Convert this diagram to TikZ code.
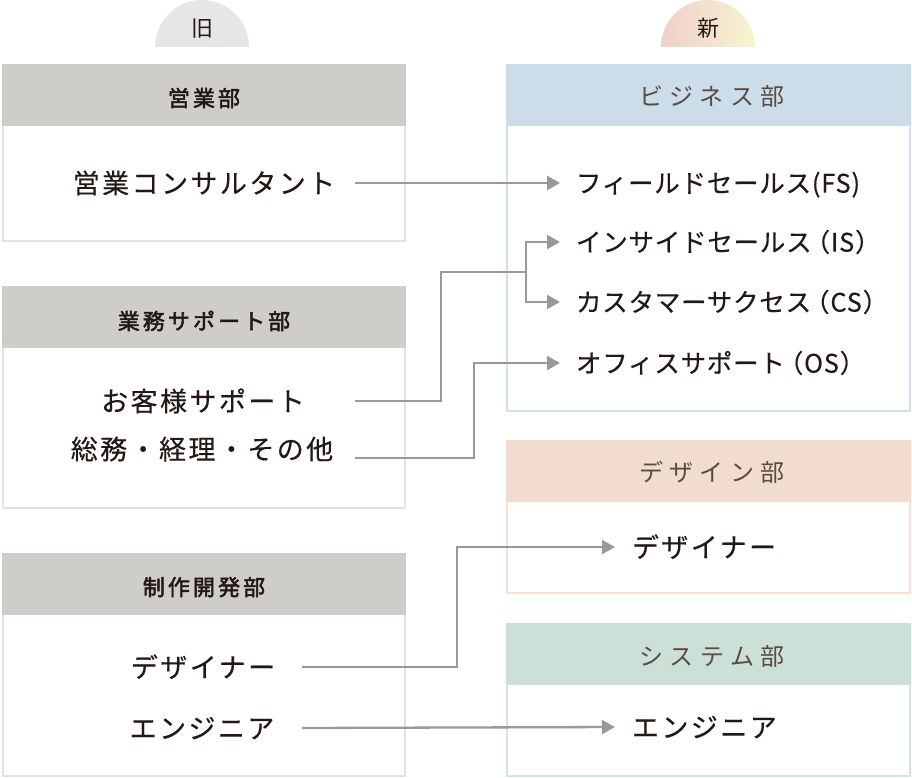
\documentclass[tikz,border=0pt]{standalone}
\usepackage{fontspec}
\usetikzlibrary{positioning,arrows.meta}
\newfontfamily\jpbody[LetterSpace=9,FakeBold=0.3]{Noto Sans CJK JP}
\newfontfamily\jpitem[LetterSpace=3,FakeBold=0.3]{Noto Sans CJK JP}
\newfontfamily\jphead[LetterSpace=14,FakeBold=2.2]{Noto Sans CJK JP}
\newfontfamily\jpdept[LetterSpace=27]{Noto Sans CJK JP}
\newfontfamily\jptab{Noto Sans CJK JP}
\definecolor{ink}{HTML}{231815}
\definecolor{deptink}{HTML}{5B4A44}
\definecolor{conngray}{HTML}{999999}
\definecolor{oldfill}{HTML}{CFCDC9}
\definecolor{oldline}{HTML}{E2E2E0}
\definecolor{bizfill}{HTML}{CBDDE8}
\definecolor{bizline}{HTML}{CFE1EB}
\definecolor{desfill}{HTML}{F2DCCF}
\definecolor{desline}{HTML}{F4E2D7}
\definecolor{sysfill}{HTML}{CBE0D6}
\definecolor{sysline}{HTML}{D3E6DE}
\definecolor{tabold}{HTML}{E6E6E6}
\definecolor{tabnewl}{HTML}{EFCFCB}
\definecolor{tabnewr}{HTML}{F7F4D0}

\begin{document}
\begin{tikzpicture}[x=1pt,y=-1pt,
  body/.style={font=\jpbody\fontsize{27pt}{31pt}\selectfont, text=ink, inner sep=0pt, text height=23.8pt, text depth=3.2pt},
  item/.style={font=\jpitem\fontsize{25.5pt}{30pt}\selectfont, text=ink, inner sep=0pt, outer xsep=16pt, anchor=west, text height=22.4pt, text depth=3.1pt},
  oldhead/.style={font=\jphead\fontsize{22pt}{26pt}\selectfont, text=ink, inner sep=0pt, text height=19.4pt, text depth=2.6pt},
  newhead/.style={font=\jpdept\fontsize{24pt}{28pt}\selectfont, text=deptink, inner sep=0pt, text height=21.1pt, text depth=2.9pt},
  tablabel/.style={font=\jptab\fontsize{22pt}{26pt}\selectfont, text=ink, inner sep=0pt, text height=19.4pt, text depth=2.6pt},
  conn/.style={draw=conngray, line width=2.3pt, -{Triangle[length=13pt,width=14pt]}},
  connline/.style={draw=conngray, line width=2.3pt}
]
\useasboundingbox (0,0) rectangle (912,778);

% tabs
\fill[tabold] (155,47) arc (180:360:47) -- cycle;
\shade[left color=tabnewl, right color=tabnewr] (661,47) arc (180:360:47) -- cycle;
\node[tablabel] (old) at (202,28) {旧};
\node[tablabel] (new) at (708,28) {新};

% old departments
\draw[oldline, line width=2pt] (3,65) rectangle (405,241);
\fill[oldfill] (2,64) rectangle (406,126);
\draw[oldline, line width=2pt] (3,287) rectangle (405,508);
\fill[oldfill] (2,286) rectangle (406,348);
\draw[oldline, line width=2pt] (3,554) rectangle (405,776);
\fill[oldfill] (2,553) rectangle (406,615);

\node[oldhead] (sales) at (204,98) {営業部};
\node[oldhead] (support) at (204,321) {業務サポート部};
\node[oldhead] (dev) at (204,587) {制作開発部};

\node[body] (consult) at (204,183) {営業コンサルタント};
\node[body] (customer) at (203,401) {お客様サポート};
\node[body] (general) at (202,449) {総務・経理・その他};
\node[body] (olddesign) at (203,667) {デザイナー};
\node[body] (oldeng) at (202,728) {エンジニア};

% new departments
\draw[bizline, line width=2pt] (507,65) rectangle (910,411);
\fill[bizfill] (506,64) rectangle (911,126);
\draw[desline, line width=2pt] (507,441) rectangle (910,593);
\fill[desfill] (506,440) rectangle (911,502);
\draw[sysline, line width=2pt] (507,624) rectangle (910,776);
\fill[sysfill] (506,623) rectangle (911,685);

\node[newhead] (biz) at (712,96) {ビジネス部};
\node[newhead] (des) at (712,472) {デザイン部};
\node[newhead] (sys) at (712,656) {システム部};

\node[item] (fs) at (560,183) {フィールドセールス(FS)};
\node[item] (is) at (560,242) {インサイドセールス\kern-7pt（IS）};
\node[item] (cs) at (560,302) {カスタマーサクセス\kern-7pt（CS）};
\node[item] (os) at (560,363) {オフィスサポート\kern-7pt（OS）};
\node[item, body, anchor=west, outer xsep=17pt] (designer) at (615,547) {デザイナー};
\node[item, body, anchor=west, outer xsep=17pt] (engineer) at (615,727) {エンジニア};

% connectors
\coordinate (lout) at (355,0);
\coordinate (lout2) at (302,0);
\coordinate (bend1) at (441,272);
\coordinate (jct) at (526,272);
\coordinate (bend2) at (474,0);
\coordinate (bend3) at (457,0);

\draw[conn] (consult -| lout) -- (fs.west);
\draw[connline] (customer -| lout) -| (bend1) -- (jct);
\draw[conn] (jct) |- (is.west);
\draw[conn] (jct) |- (cs.west);
\draw[conn] ([yshift=-9pt]general.center -| lout) -| (os.west -| bend2) -- (os.west);
\draw[conn] (olddesign -| lout2) -| (designer.west -| bend3) -- (designer.west);
\draw[conn] (oldeng -| lout2) -- (engineer.west);
\end{tikzpicture}
\end{document}
